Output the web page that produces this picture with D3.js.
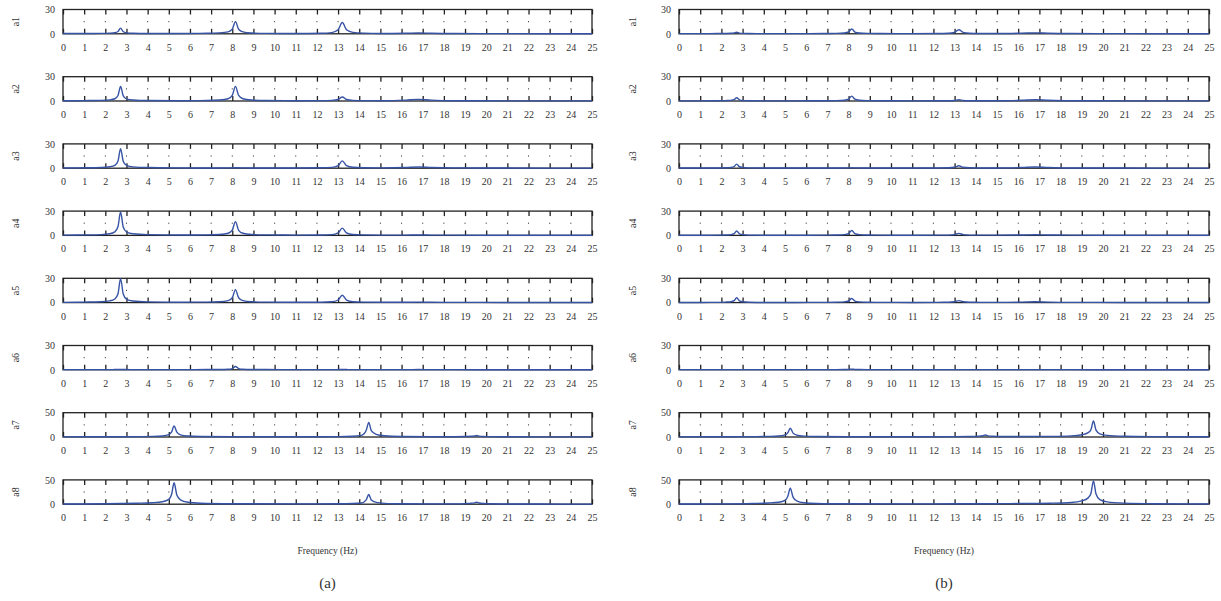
<!DOCTYPE html>
<html>
<head>
<meta charset="utf-8">
<script src="https://cdn.jsdelivr.net/npm/d3@7"></script>
<style>
  body { margin: 0; background: #fff; }
  text { font-family: "Liberation Serif", "DejaVu Serif", serif; fill: #333; }
</style>
</head>
<body>
<svg id="chart" width="1221" height="601"></svg>
<script>
// frequency grids (Hz) for rows a1-a6 and rows a7-a8
var freqA = [0, 1, 1.8, 2.2, 2.45, 2.6, 2.72, 2.85, 3.0, 3.3, 4, 5.5, 6.8, 7.4, 7.8, 8.0, 8.15, 8.3, 8.5, 8.9, 9.6, 11,
             12.2, 12.7, 13.0, 13.2, 13.4, 13.7, 14.2, 15, 16.2, 16.8, 17.4, 18.5, 21, 25];
var freqB = [0, 2, 3.5, 4.2, 4.7, 5.0, 5.13, 5.25, 5.38, 5.55, 5.9, 6.5, 8, 11, 13, 13.7, 14.1, 14.33, 14.45, 14.57,
             14.8, 15.2, 16, 17.5, 18.5, 19.0, 19.3, 19.43, 19.55, 19.67, 19.85, 20.2, 21, 22.5, 25];

var rowNames = ["a1", "a2", "a3", "a4", "a5", "a6", "a7", "a8"];
var rowMax = [30, 30, 30, 30, 30, 30, 50, 50];
var xTicks = d3.range(0, 26);

// panel (a) amplitudes
var a1a = [0.3,0.4,0.5,0.8,1.3,2.8,7,2.5,1.2,0.7,0.4,0.4,0.6,1.1,2.4,5.8,15,5.6,2.3,1.0,0.5,0.4,0.7,1.5,5,14,5,1.8,0.8,0.4,0.7,1.0,0.6,0.3,0.2,0.1];
var a2a = [0.3,0.5,0.8,1.4,2.8,6.8,18,6.3,2.7,1.3,0.6,0.4,0.6,1.2,2.8,7,18,6.8,2.8,1.2,0.6,0.4,0.5,0.8,1.8,5,1.8,0.8,0.5,0.4,1.1,2,1.1,0.4,0.2,0.1];
var a3a = [0.3,0.5,0.9,1.8,3.6,9,24,8.4,3.6,1.7,0.8,0.4,0.3,0.3,0.4,0.5,0.6,0.5,0.4,0.3,0.3,0.3,0.5,1,3.2,9,3.2,1.1,0.6,0.4,0.9,1.5,0.9,0.4,0.2,0.1];
var a4a = [0.3,0.6,1,2,4.4,11,29,10,4.4,2,0.9,0.5,0.6,1.1,2.6,6.5,17,6.3,2.6,1.1,0.6,0.4,0.5,1,3.2,9,3.2,1.1,0.6,0.4,0.4,0.5,0.4,0.3,0.2,0.1];
var a5a = [0.3,0.6,1,2.1,4.5,11,29.5,10.3,4.4,2,0.9,0.5,0.6,1.0,2.4,6,16,6,2.4,1,0.6,0.4,0.5,1,3.2,9,3.2,1.1,0.6,0.4,0.4,0.6,0.4,0.3,0.2,0.1];
var a6a = [0.2,0.2,0.2,0.2,0.3,0.3,0.4,0.3,0.3,0.2,0.2,0.2,0.3,0.4,0.7,1.5,4,1.5,0.7,0.4,0.3,0.2,0.2,0.2,0.3,0.4,0.3,0.2,0.2,0.2,0.2,0.3,0.2,0.2,0.1,0.1];
var a7a = [0.3,0.5,0.8,1.2,2.2,5,10,22.5,10,4.5,2,1,0.6,0.5,0.8,1.5,3.3,14,30,13,5.5,2.5,1.1,0.6,0.6,0.9,1.4,2,3,1.8,1.1,0.7,0.4,0.3,0.2];
var a8a = [0.4,0.8,2,3,5,10,20,44,19,9,4,2,1,0.6,0.8,1.3,2.5,9,20,8.5,3.8,1.8,0.9,0.6,0.7,1.2,2,2.7,4,2.4,1.4,0.9,0.5,0.3,0.2];

// panel (b) amplitudes
var a1b = [0.2,0.2,0.3,0.4,0.6,1,2,0.9,0.5,0.3,0.2,0.2,0.3,0.5,1,2.3,6,2.2,1,0.5,0.3,0.2,0.3,0.6,1.8,5,1.8,0.7,0.4,0.3,0.8,1.2,0.7,0.3,0.2,0.1];
var a2b = [0.2,0.2,0.3,0.5,0.8,1.6,4,1.5,0.7,0.4,0.2,0.2,0.3,0.5,1,2.3,6,2.2,1,0.5,0.3,0.2,0.3,0.4,0.7,1.5,0.7,0.4,0.3,0.3,0.9,1.5,0.9,0.3,0.2,0.1];
var a3b = [0.2,0.2,0.3,0.5,0.9,2,5,1.8,0.9,0.4,0.2,0.2,0.2,0.2,0.3,0.4,0.5,0.4,0.3,0.2,0.2,0.2,0.3,0.5,1.2,3,1.2,0.5,0.3,0.3,0.9,1.5,0.9,0.3,0.2,0.1];
var a4b = [0.2,0.2,0.3,0.5,1,2.2,5.5,2,0.9,0.4,0.2,0.2,0.3,0.5,1,2.3,6,2.2,1,0.5,0.3,0.2,0.3,0.4,1,2.5,1,0.4,0.3,0.3,0.5,0.8,0.5,0.3,0.2,0.1];
var a5b = [0.2,0.2,0.3,0.6,1.1,2.4,6,2.2,1,0.5,0.2,0.2,0.3,0.5,0.9,2,5,1.9,0.9,0.4,0.3,0.2,0.3,0.4,1,2.5,1,0.4,0.3,0.3,0.6,1,0.6,0.3,0.2,0.1];
var a6b = [0.2,0.2,0.2,0.2,0.2,0.2,0.2,0.2,0.2,0.2,0.2,0.2,0.2,0.2,0.3,0.4,0.8,0.4,0.3,0.2,0.2,0.2,0.2,0.2,0.2,0.2,0.2,0.2,0.2,0.2,0.2,0.2,0.2,0.2,0.1,0.1];
var a7b = [0.3,0.5,0.8,1.2,2,4.2,8.5,18,8,3.8,1.7,0.9,0.5,0.5,0.7,1,1.6,2.6,4,2.4,1.4,1,0.9,1.3,2.3,4.6,9,15,33,14,6.5,3.3,1.6,0.8,0.4];
var a8b = [0.3,0.6,1.5,2.4,4,8,16,33,14.5,7,3,1.5,0.8,0.6,0.8,0.9,1,1,1.1,1,1,1.1,1.3,2,3.5,6.8,13,22,48,21,9.5,4.8,2.2,1,0.5];

var panelA = [a1a, a2a, a3a, a4a, a5a, a6a, a7a, a8a];
var panelB = [a1b, a2b, a3b, a4b, a5b, a6b, a7b, a8b];

var svg = d3.select("#chart");

var rowTop = 9.5, rowStep = 67.2, rowH = 24.3;

var panels = [
  { vals: panelA, x0: 63, x1: 592, nameX: 15, tag: "(a)" },
  { vals: panelB, x0: 679, x1: 1209, nameX: 632, tag: "(b)" }
];

panels.forEach(function(p) {
  var x = d3.scaleLinear().domain([0, 25]).range([p.x0, p.x1]);

  p.vals.forEach(function(vals, i) {
    var top = rowTop + i * rowStep;
    var freq = i < 6 ? freqA : freqB;
    var y = d3.scaleLinear().domain([0, rowMax[i]]).range([top + rowH, top]);
    var g = svg.append("g");

    // dotted middle marks at each integer
    g.selectAll("line.dot")
      .data(xTicks.slice(1, 25))
      .enter().append("line")
      .attr("x1", d => x(d)).attr("x2", d => x(d))
      .attr("y1", top + rowH / 2 - 0.6).attr("y2", top + rowH / 2 + 0.6)
      .attr("stroke", "#444").attr("stroke-width", 1);

    // bottom axis with inward ticks
    var bx = g.append("g")
      .attr("transform", "translate(0," + (top + rowH) + ")")
      .call(d3.axisBottom(x).tickValues(xTicks).tickSizeInner(-5).tickSizeOuter(0).tickPadding(10));
    bx.select(".domain").remove();
    bx.selectAll("line").attr("stroke", "#222").attr("stroke-width", 1.3);
    bx.selectAll("text").style("font-size", "10px").attr("fill", "#333");

    // top axis ticks
    var tx = g.append("g")
      .attr("transform", "translate(0," + top + ")")
      .call(d3.axisTop(x).tickValues(xTicks).tickSizeInner(-5).tickSizeOuter(0).tickFormat(""));
    tx.select(".domain").remove();
    tx.selectAll("line").attr("stroke", "#222").attr("stroke-width", 1.3);

    // left axis labels
    var ly = g.append("g")
      .attr("transform", "translate(" + p.x0 + ",0)")
      .call(d3.axisLeft(y).tickValues([0, rowMax[i]]).tickSize(0).tickPadding(8));
    ly.select(".domain").remove();
    ly.selectAll("text").style("font-size", "10px").attr("fill", "#333");

    // frame
    g.append("rect")
      .attr("x", p.x0).attr("y", top)
      .attr("width", p.x1 - p.x0).attr("height", rowH)
      .attr("fill", "none").attr("stroke", "#222").attr("stroke-width", 1.3);

    // spectrum line
    var line = d3.line()
      .x((d, k) => x(freq[k]))
      .y(d => y(d))
      .curve(d3.curveMonotoneX);

    g.append("path")
      .datum(vals)
      .attr("d", line)
      .attr("fill", "none")
      .attr("stroke", "#3653a5")
      .attr("stroke-width", 1.4);

    // row name
    g.append("text")
      .attr("transform", "translate(" + p.nameX + "," + (top + rowH / 2) + ") rotate(-90)")
      .attr("text-anchor", "middle")
      .attr("dy", "0.35em")
      .style("font-size", "10px")
      .text(rowNames[i]);
  });

  var cx = (p.x0 + p.x1) / 2;
  svg.append("text")
    .attr("x", cx).attr("y", 554)
    .attr("text-anchor", "middle")
    .style("font-size", "9.5px")
    .text("Frequency (Hz)");

  svg.append("text")
    .attr("x", cx).attr("y", 588)
    .attr("text-anchor", "middle")
    .style("font-size", "15px")
    .text(p.tag);
});
</script>
</body>
</html>
